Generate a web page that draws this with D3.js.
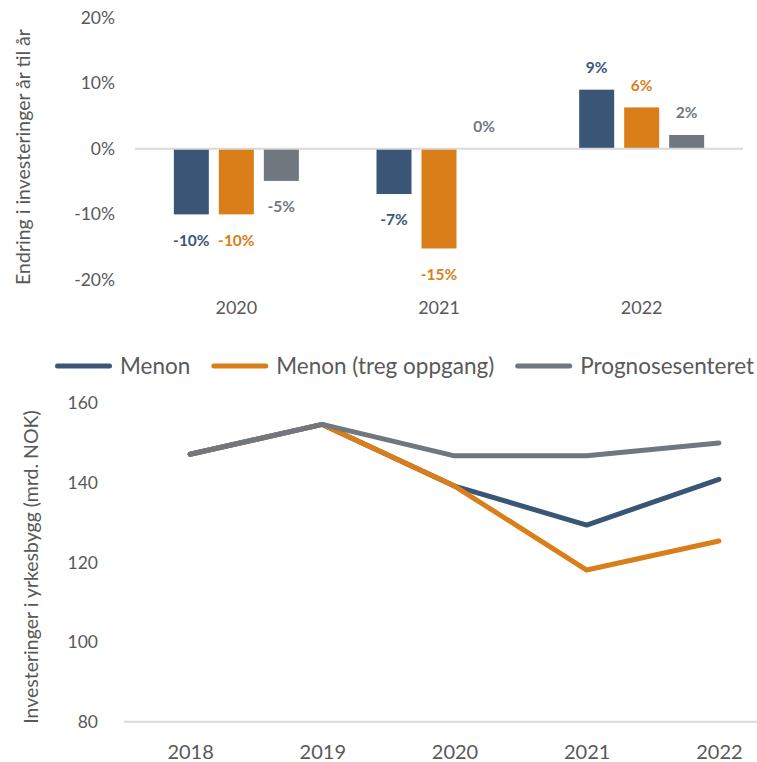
<!DOCTYPE html>
<html>
<head>
<meta charset="utf-8">
<script src="https://cdn.jsdelivr.net/npm/d3@7"></script>
<style>
  body { margin: 0; background: #fff; }
  text { font-family: Lato, "Open Sans", sans-serif; fill: #595959; }
</style>
</head>
<body>
<script>
// top panel: change year over year (%)
const barYears = ["2020", "2021", "2022"];
const seriesNames = ["Menon", "Menon (treg oppgang)", "Prognosesenteret"];
const menonChange = [-10, -6.9, 9.0];
const tregChange = [-10, -15.2, 6.3];
const prognoseChange = [-4.9, 0, 2.1];
const pctTicks = [-20, -10, 0, 10, 20];

// bottom panel: investment level (bn NOK)
const lineYears = ["2018", "2019", "2020", "2021", "2022"];
const menonLevel = [147.2, 154.7, 139.2, 129.4, 140.9];
const tregLevel = [147.2, 154.7, 139.2, 118.1, 125.4];
const prognoseLevel = [147.2, 154.7, 146.8, 146.8, 150.0];
const levelTicks = [80, 100, 120, 140, 160];

const colors = ["#3a5676", "#d97e18", "#70777f"];

const W = 757, H = 762;
const svg = d3.select("body").append("svg")
  .attr("width", W)
  .attr("height", H);

// ---------- bar chart ----------
const barSeries = [menonChange, tregChange, prognoseChange];

const x0 = d3.scaleBand()
  .domain(barYears)
  .range([135, 743]);

const x1 = d3.scaleBand()
  .domain(d3.range(seriesNames.length))
  .range([0, x0.bandwidth()])
  .paddingInner(10 / 45)
  .paddingOuter(0.863);

const y = d3.scaleLinear()
  .domain([-20, 20])
  .range([280, 17.5]);

const barPanel = svg.append("g");

barPanel.append("g")
  .attr("transform", "translate(135,0)")
  .call(d3.axisLeft(y).tickValues(pctTicks).tickSize(0).tickPadding(20).tickFormat(d => d + "%"))
  .call(g => g.select(".domain").remove())
  .selectAll("text")
    .attr("font-size", 17.5)
    .style("font-family", "Lato, sans-serif")
    .attr("fill", "#595959");

const barData = [];
barYears.forEach((yr, i) => {
  barSeries.forEach((s, j) => barData.push({ year: yr, s: j, v: s[i] }));
});

barPanel.append("g")
  .selectAll("rect")
  .data(barData)
  .join("rect")
    .attr("x", d => x0(d.year) + x1(d.s))
    .attr("width", x1.bandwidth())
    .attr("y", d => y(Math.max(0, d.v)))
    .attr("height", d => Math.abs(y(d.v) - y(0)))
    .attr("fill", d => colors[d.s]);

// zero line
barPanel.append("line")
  .attr("x1", x0.range()[0])
  .attr("x2", x0.range()[1])
  .attr("y1", y(0))
  .attr("y2", y(0))
  .attr("stroke", "#d9d9d9")
  .attr("stroke-width", 2);

barPanel.append("g")
  .selectAll("text")
  .data(barData)
  .join("text")
    .attr("x", d => x0(d.year) + x1(d.s) + x1.bandwidth() / 2)
    .attr("y", d => d.v < 0 ? y(d.v) + 26 : y(d.v) - 22)
    .attr("dy", "0.35em")
    .attr("text-anchor", "middle")
    .attr("font-size", 15.5)
    .attr("font-weight", "bold")
    .style("fill", d => colors[d.s])
    .text(d => Math.round(d.v) + "%");

barPanel.append("g")
  .attr("transform", "translate(0,308)")
  .call(d3.axisBottom(x0).tickSize(0).tickPadding(0))
  .call(g => g.select(".domain").remove())
  .selectAll("text")
    .attr("y", 0)
    .attr("dy", "0.35em")
    .attr("font-size", 18)
    .style("font-family", "Lato, sans-serif")
    .attr("fill", "#595959");

barPanel.append("text")
  .attr("transform", "translate(23,157) rotate(-90)")
  .attr("text-anchor", "middle")
  .attr("dy", "0.35em")
  .attr("font-size", 19.5)
  .text("Endring i investeringer år til år");

// ---------- legend ----------
const legend = svg.append("g").attr("transform", "translate(55,366)");
let lx = 0;
seriesNames.forEach((name, i) => {
  legend.append("line")
    .attr("x1", lx + 2.5).attr("x2", lx + 54.5)
    .attr("y1", 0).attr("y2", 0)
    .attr("stroke", colors[i])
    .attr("stroke-width", 5)
    .attr("stroke-linecap", "round");
  const t = legend.append("text")
    .attr("x", lx + 65)
    .attr("dy", "0.35em")
    .attr("font-size", 22.5)
    .text(name);
  lx += 65 + t.node().getComputedTextLength() + 21;
});

// ---------- line chart ----------
const xp = d3.scalePoint()
  .domain(lineYears)
  .range([124, 785])
  .padding(0.5);

const y2 = d3.scaleLinear()
  .domain([80, 160])
  .range([721.7, 403.3]);

const linePanel = svg.append("g");

linePanel.append("g")
  .attr("transform", "translate(124,0)")
  .call(d3.axisLeft(y2).tickValues(levelTicks).tickSize(0).tickPadding(26))
  .call(g => g.select(".domain").remove())
  .selectAll("text")
    .attr("font-size", 17.5)
    .style("font-family", "Lato, sans-serif")
    .attr("fill", "#595959");

linePanel.append("line")
  .attr("x1", 124).attr("x2", 785)
  .attr("y1", y2(80)).attr("y2", y2(80))
  .attr("stroke", "#d9d9d9")
  .attr("stroke-width", 2);

linePanel.append("g")
  .attr("transform", "translate(0,752)")
  .call(d3.axisBottom(xp).tickSize(0).tickPadding(0))
  .call(g => g.select(".domain").remove())
  .selectAll("text")
    .attr("y", 0)
    .attr("dy", "0.35em")
    .attr("font-size", 20)
    .style("font-family", "Lato, sans-serif")
    .attr("fill", "#595959");

const line = d3.line()
  .x((d, i) => xp(lineYears[i]))
  .y(d => y2(d));

[menonLevel, tregLevel, prognoseLevel].forEach((s, i) => {
  linePanel.append("path")
    .attr("d", line(s))
    .attr("fill", "none")
    .attr("stroke", colors[i])
    .attr("stroke-width", 5)
    .attr("stroke-linecap", "round")
    .attr("stroke-linejoin", "round");
});

linePanel.append("text")
  .attr("transform", "translate(31,567) rotate(-90)")
  .attr("text-anchor", "middle")
  .attr("dy", "0.35em")
  .attr("font-size", 19.5)
  .text("Investeringer i yrkesbygg (mrd. NOK)");
</script>
</body>
</html>
